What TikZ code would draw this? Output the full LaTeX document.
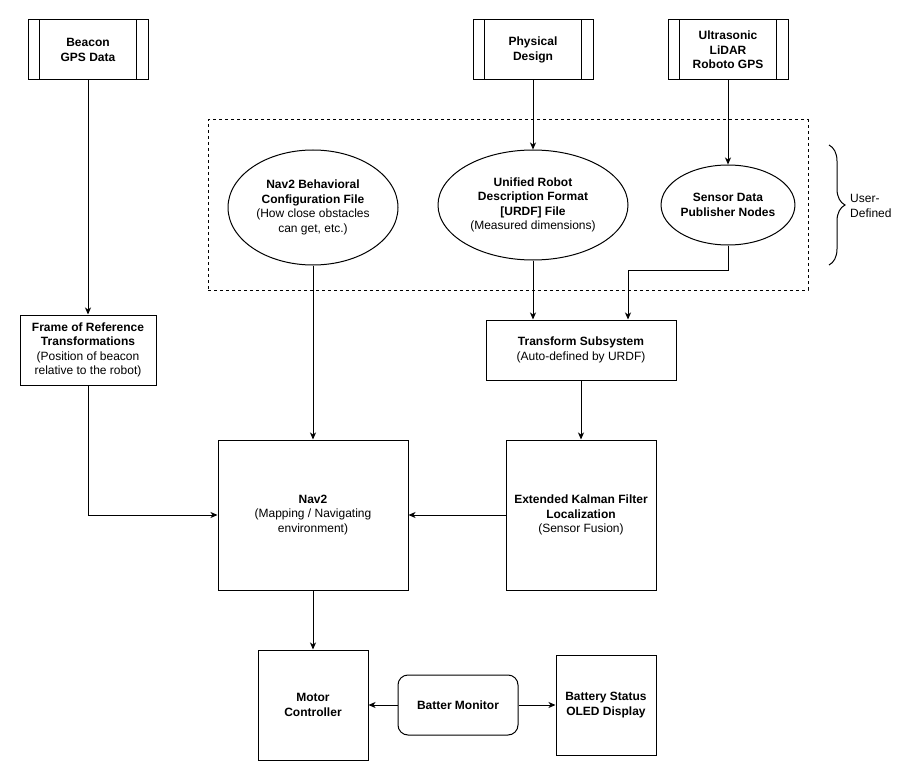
\documentclass[tikz,border=0pt]{standalone}
\usepackage{fontspec}
\setmainfont{Liberation Sans}
\usetikzlibrary{arrows.meta,shapes.geometric,decorations.pathreplacing}
\begin{document}
\begin{tikzpicture}[x=1pt,y=-1pt,
  every node/.style={font=\fontsize{12}{14.5}\selectfont, align=center, inner sep=0pt},
  lw/.style={line width=1pt},
  arr/.style={lw, -{Stealth[length=7pt,width=6pt,inset=2pt]}},
  ell/.style={draw, lw, ellipse},
]
\useasboundingbox (0,0) rectangle (911,781);

% process boxes with side bars
\newcommand{\procbox}[4]{%
  \node[draw, lw, minimum width=120pt, minimum height=60pt] (#1) at (#2,#3) {#4};
  \draw[lw] ([xshift=12pt]#1.north west) -- ([xshift=12pt]#1.south west);
  \draw[lw] ([xshift=-12pt]#1.north east) -- ([xshift=-12pt]#1.south east);
}
\procbox{beacon}{88}{50}{\textbf{Beacon}\\\textbf{GPS Data}}
\procbox{phys}{533}{50}{\textbf{Physical}\\\textbf{Design}}
\procbox{ultra}{728}{50}{\textbf{Ultrasonic}\\\textbf{LiDAR}\\\textbf{Roboto GPS}}

% dashed region
\node[draw, lw, dashed, minimum width=600pt, minimum height=170pt] (region) at (508,205) {};

% ellipses
\node[ell, minimum width=170pt, minimum height=115pt] (behav) at (313,207.5)
  {\textbf{Nav2 Behavioral}\\\textbf{Configuration File}\\(How close obstacles\\can get, etc.)};
\node[ell, minimum width=190pt, minimum height=110pt] (urdf) at (533,205)
  {\textbf{Unified Robot}\\\textbf{Description Format}\\\textbf{[URDF] File}\\(Measured dimensions)};
\node[ell, minimum width=120pt, minimum height=80pt] (sensor) at (728,205)
  {\textbf{Sensor Data}\\\textbf{Publisher Nodes}};

% brace
\coordinate (braceA) at (829,145);
\coordinate (braceB) at (829,265);
\draw[lw, decorate, decoration={brace, amplitude=16pt}] (braceA) -- (braceB);
\node[anchor=west, align=left] (userdef) at (850,206) {User-\\Defined};

% rectangles
\node[draw, lw, minimum width=136pt, minimum height=70pt] (frame) at (88,350)
  {\textbf{Frame of Reference}\\\textbf{Transformations}\\(Position of beacon\\relative to the robot)};
\node[draw, lw, minimum width=190pt, minimum height=60pt] (tf) at (581,350)
  {\textbf{Transform Subsystem}\\(Auto-defined by URDF)};
\node[draw, lw, minimum width=190pt, minimum height=150pt] (nav2) at (313,515)
  {\textbf{Nav2}\\(Mapping / Navigating\\environment)};
\node[draw, lw, minimum width=150pt, minimum height=150pt] (ekf) at (581,515)
  {\textbf{Extended Kalman Filter}\\\textbf{Localization}\\(Sensor Fusion)};
\node[draw, lw, minimum width=110pt, minimum height=110pt] (motor) at (313,705)
  {\textbf{Motor}\\\textbf{Controller}};
\node[draw, lw, rounded corners=10pt, minimum width=120pt, minimum height=60pt] (batt) at (458,705)
  {\textbf{Batter Monitor}};
\node[draw, lw, minimum width=100pt, minimum height=100pt] (oled) at (606,705)
  {\textbf{Battery Status}\\\textbf{OLED Display}};

% connectors
\draw[arr] (beacon.south) -- (frame.north);
\draw[arr] (phys.south) -- (urdf.north);
\draw[arr] (ultra.south) -- (sensor.north);
\draw[arr] (urdf.south) -- (urdf.south |- tf.north);
\draw[arr] (sensor.south) -- ++(0,25) -| ([xshift=47pt]tf.north);
\draw[arr] (behav.south) -- (nav2.north);
\draw[arr] (frame.south) |- (nav2.west);
\draw[arr] (tf.south) -- (ekf.north);
\draw[arr] (ekf.west) -- (nav2.east);
\draw[arr] (nav2.south) -- (motor.north);
\draw[arr] (batt.west) -- (motor.east);
\draw[arr] (batt.east) -- (oled.west);
\end{tikzpicture}
\end{document}
